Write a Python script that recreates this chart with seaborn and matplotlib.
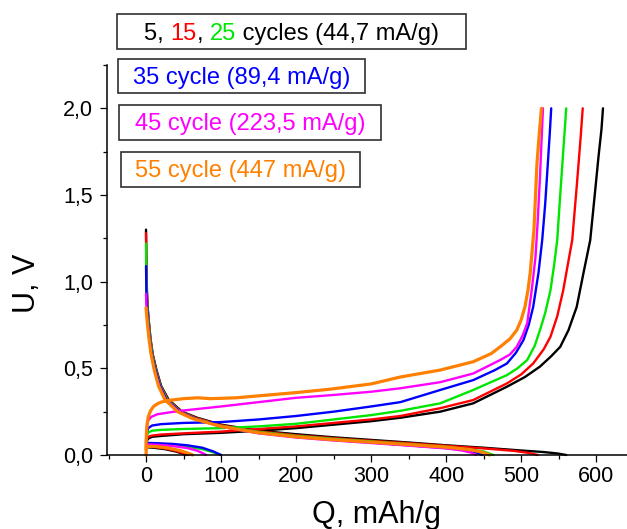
"""
Charge/discharge profiles U(Q) for cycles 5..55 at different current densities.
Values read off the reference figure by eye.
"""

import matplotlib
matplotlib.use("Agg")
import matplotlib.pyplot as plt
from matplotlib.patches import Rectangle
from matplotlib.ticker import MultipleLocator, FuncFormatter
import seaborn as sns

# ---- data: charge branches (Q in mAh/g, U in V) ----
chg_5_q = [0, 1, 3, 8, 20, 50, 100, 150, 200, 250, 300, 339, 392, 436, 481, 505, 525, 540, 552, 563, 574, 583, 592, 598, 603, 607, 609]
chg_5_v = [0.04, 0.08, 0.095, 0.105, 0.11, 0.12, 0.128, 0.14, 0.155, 0.175, 0.195, 0.215, 0.25, 0.298, 0.394, 0.45, 0.51, 0.57, 0.624, 0.72, 0.855, 1.05, 1.24, 1.5, 1.72, 1.88, 2.0]
chg_15_q = [0, 1, 3, 8, 20, 50, 100, 150, 200, 250, 300, 339, 392, 436, 481, 500, 516, 530, 539, 548, 556, 563, 568, 574, 579, 582]
chg_15_v = [0.05, 0.09, 0.105, 0.112, 0.118, 0.125, 0.135, 0.15, 0.165, 0.185, 0.205, 0.225, 0.27, 0.317, 0.413, 0.465, 0.528, 0.61, 0.682, 0.8, 0.95, 1.12, 1.24, 1.55, 1.82, 2.0]
chg_25_q = [0, 1, 3, 8, 20, 50, 100, 150, 200, 250, 300, 339, 392, 436, 481, 495, 508, 518, 525, 532, 539, 544, 548, 552, 556, 560]
chg_25_v = [0.06, 0.11, 0.13, 0.14, 0.145, 0.15, 0.155, 0.165, 0.18, 0.205, 0.23, 0.255, 0.298, 0.375, 0.461, 0.5, 0.548, 0.63, 0.72, 0.82, 0.95, 1.1, 1.24, 1.5, 1.75, 2.0]
chg_35_q = [0, 1, 3, 8, 20, 50, 100, 150, 200, 250, 300, 339, 392, 436, 465, 481, 493, 503, 510, 516, 523, 528, 532, 535, 538, 540]
chg_35_v = [0.07, 0.13, 0.155, 0.17, 0.178, 0.185, 0.19, 0.205, 0.225, 0.25, 0.28, 0.305, 0.375, 0.432, 0.49, 0.528, 0.59, 0.663, 0.75, 0.855, 1.05, 1.24, 1.45, 1.65, 1.85, 2.0]
chg_45_q = [0, 1, 3, 7, 15, 30, 46, 100, 150, 200, 246, 300, 339, 392, 436, 472, 485, 494, 502, 508, 514, 519, 522, 525, 527, 529]
chg_45_v = [0.08, 0.16, 0.2, 0.22, 0.235, 0.245, 0.255, 0.28, 0.305, 0.33, 0.345, 0.365, 0.385, 0.42, 0.47, 0.548, 0.58, 0.624, 0.69, 0.76, 0.95, 1.14, 1.35, 1.6, 1.8, 2.0]
chg_55_q = [0, 0.5, 1.5, 3, 6, 10, 15, 20, 30, 50, 69, 86, 120, 160, 200, 246, 300, 339, 392, 436, 460, 472, 485, 494, 500, 505, 509, 512, 517, 521, 524, 527]
chg_55_v = [0.03, 0.12, 0.18, 0.22, 0.255, 0.28, 0.295, 0.305, 0.315, 0.325, 0.33, 0.325, 0.33, 0.345, 0.36, 0.38, 0.41, 0.45, 0.49, 0.538, 0.585, 0.624, 0.67, 0.72, 0.78, 0.855, 0.95, 1.05, 1.3, 1.68, 1.85, 2.0]

# ---- data: discharge branches ----
dis_5_q = [0, 0.5, 1.2, 2.2, 4, 6, 9, 14, 20, 30, 48, 68, 100, 150, 200, 250, 300, 350, 400, 450, 500, 530, 548, 560]
dis_5_v = [1.30, 1.10, 0.95, 0.85, 0.76, 0.67, 0.58, 0.49, 0.40, 0.32, 0.25, 0.215, 0.175, 0.14, 0.12, 0.102, 0.087, 0.072, 0.056, 0.042, 0.026, 0.017, 0.009, 0.0]
dis_15_q = [0, 0.4, 1.1, 2, 3.8, 5.8, 8.7, 13.5, 19.5, 29, 47, 67, 100, 150, 200, 250, 300, 350, 400, 450, 490, 510, 522]
dis_15_v = [1.28, 1.08, 0.94, 0.85, 0.76, 0.67, 0.58, 0.49, 0.40, 0.32, 0.25, 0.213, 0.172, 0.137, 0.114, 0.097, 0.082, 0.068, 0.053, 0.038, 0.024, 0.012, 0.0]
dis_25_q = [0, 0.3, 0.9, 1.8, 3.5, 5.5, 8.3, 13, 19, 28, 46, 66, 100, 150, 200, 250, 300, 350, 400, 430, 450, 463]
dis_25_v = [1.22, 1.05, 0.93, 0.85, 0.76, 0.67, 0.58, 0.49, 0.40, 0.32, 0.25, 0.21, 0.168, 0.133, 0.11, 0.093, 0.078, 0.063, 0.047, 0.033, 0.02, 0.0]
dis_35_q = [0, 0.6, 1.5, 3, 5, 7.8, 12.5, 18.5, 27, 45, 65, 100, 150, 200, 250, 300, 350, 400, 425, 440, 448]
dis_35_v = [1.09, 0.93, 0.85, 0.76, 0.67, 0.58, 0.49, 0.40, 0.32, 0.25, 0.21, 0.165, 0.128, 0.104, 0.087, 0.072, 0.056, 0.04, 0.028, 0.014, 0.0]
dis_45_q = [0, 0.6, 2.2, 4.3, 7, 11.5, 17.5, 26, 44, 64, 100, 150, 200, 250, 300, 350, 400, 420, 433, 440]
dis_45_v = [0.93, 0.85, 0.76, 0.67, 0.58, 0.49, 0.40, 0.32, 0.25, 0.21, 0.163, 0.125, 0.101, 0.084, 0.069, 0.054, 0.038, 0.027, 0.014, 0.0]
dis_55_q = [0, 1.8, 4, 6.8, 11, 16.5, 25, 42, 62, 100, 150, 200, 250, 300, 350, 400, 430, 448, 458]
dis_55_v = [0.85, 0.76, 0.67, 0.58, 0.49, 0.40, 0.32, 0.25, 0.21, 0.165, 0.128, 0.105, 0.088, 0.074, 0.06, 0.045, 0.032, 0.016, 0.0]

# ---- data: short low-voltage segments near Q = 0 ----
low_5_q = [0, 10, 25, 40, 48, 53]
low_5_v = [0.045, 0.042, 0.034, 0.02, 0.009, 0.0]
low_15_q = [0, 10, 25, 40, 50, 56]
low_15_v = [0.05, 0.047, 0.038, 0.024, 0.01, 0.0]
low_25_q = [0, 15, 35, 55, 75, 90, 100]
low_25_v = [0.062, 0.06, 0.056, 0.048, 0.034, 0.015, 0.0]
low_35_q = [0, 15, 35, 55, 75, 90, 100]
low_35_v = [0.07, 0.068, 0.064, 0.056, 0.042, 0.02, 0.0]
low_45_q = [0, 15, 35, 55, 68, 76, 80]
low_45_v = [0.062, 0.059, 0.052, 0.04, 0.025, 0.01, 0.0]
low_55_q = [0, 0.5, 3, 15, 30, 45, 55, 62]
low_55_v = [0.0, 0.04, 0.05, 0.048, 0.04, 0.026, 0.012, 0.0]

cycles = [5, 15, 25, 35, 45, 55]
cycle_colors = ["#000000", "#ff0000", "#00e600", "#0000ff", "#ff00ff", "#ff8000"]

box_labels = ["35 cycle (89,4 mA/g)", "45 cycle (223,5 mA/g)", "55 cycle (447 mA/g)"]
box_label_colors = ["#0000ff", "#ff00ff", "#ff8000"]
first_label_parts = ["5, ", "15", ", ", "25", " cycles (44,7 mA/g)"]
first_label_colors = ["#000000", "#ff0000", "#000000", "#00e600", "#000000"]

x_ticks = [0, 100, 200, 300, 400, 500, 600]
y_ticks = [0.0, 0.5, 1.0, 1.5, 2.0]

segments = {
    5: [(chg_5_q, chg_5_v), (dis_5_q, dis_5_v), (low_5_q, low_5_v)],
    15: [(chg_15_q, chg_15_v), (dis_15_q, dis_15_v), (low_15_q, low_15_v)],
    25: [(chg_25_q, chg_25_v), (dis_25_q, dis_25_v), (low_25_q, low_25_v)],
    35: [(chg_35_q, chg_35_v), (dis_35_q, dis_35_v), (low_35_q, low_35_v)],
    45: [(chg_45_q, chg_45_v), (dis_45_q, dis_45_v), (low_45_q, low_45_v)],
    55: [(chg_55_q, chg_55_v), (dis_55_q, dis_55_v), (low_55_q, low_55_v)],
}

sns.set_theme(style="ticks")
plt.rcParams["font.family"] = ["Liberation Sans", "DejaVu Sans"]

W, H = 627, 529
fig = plt.figure(figsize=(W / 100, H / 100), dpi=100)
ax = fig.add_axes([107 / W, 1 - 455 / H, (W - 107) / W, (455 - 65) / H])

for cyc, col in zip(cycles, cycle_colors):
    lw = 2.3 if cyc == 55 else 1.7
    for q, v in segments[cyc]:
        sns.lineplot(x=q, y=v, sort=False, estimator=None, color=col, lw=lw, ax=ax)

for ln in ax.lines:
    ln.set_clip_on(False)

ax.set_xlim(-52, 641)
ax.set_ylim(0, 2.25)
sns.despine(ax=ax)
for side in ["left", "bottom"]:
    ax.spines[side].set_linewidth(1.1)
    ax.spines[side].set_color("black")

ax.set_xticks(x_ticks)
ax.set_yticks(y_ticks)
ax.xaxis.set_minor_locator(MultipleLocator(50))
ax.yaxis.set_minor_locator(MultipleLocator(0.25))
ax.yaxis.set_major_formatter(FuncFormatter(lambda v, p: f"{v:.1f}".replace(".", ",")))
ax.xaxis.set_major_formatter(FuncFormatter(lambda v, p: f"{v:.0f}"))
ax.tick_params(which="major", length=5, width=0.9, labelsize=15.5, colors="black")
ax.tick_params(which="minor", length=3, width=0.9, colors="black")
ax.tick_params(axis="x", which="major", pad=3)
ax.tick_params(axis="y", which="major", pad=5)

ax.set_xlabel("Q, mAh/g", fontsize=22, color="black")
ax.set_ylabel("U, V", fontsize=22, color="black")
ax.xaxis.set_label_coords(0.519, -0.115)
ax.yaxis.set_label_coords(-0.125, 0.441)

# ---- framed annotations (pixel layout) ----
boxes = [(117, 14, 466, 49), (118, 59, 365, 93), (119, 105, 381, 140), (121, 152, 360, 187)]
for x0, y0, x1, y1 in boxes:
    fig.add_artist(Rectangle((x0 / W, 1 - y1 / H), (x1 - x0) / W, (y1 - y0) / H,
                             transform=fig.transFigure, fill=False,
                             ec="#303030", lw=1.2))

for (x0, y0, x1, y1), txt, col in zip(boxes[1:], box_labels, box_label_colors):
    fig.text((x0 + x1) / 2 / W, 1 - (y0 + 25) / H, txt, ha="center",
             va="baseline", fontsize=17, color=col)

# multicoloured first label: measure advances with bar guards
renderer = fig.canvas.get_renderer()


def advance(s):
    t1 = fig.text(0, 0, "|" + s + "|", fontsize=17)
    t2 = fig.text(0, 0, "||", fontsize=17)
    w = t1.get_window_extent(renderer).width - t2.get_window_extent(renderer).width
    t1.remove()
    t2.remove()
    return w


widths = [advance(s) for s in first_label_parts]
x0, y0, x1, y1 = boxes[0]
xpos = (x0 + x1) / 2 - sum(widths) / 2
for s, col, w in zip(first_label_parts, first_label_colors, widths):
    fig.text(xpos / W, 1 - (y0 + 26) / H, s, ha="left", va="baseline",
             fontsize=17, color=col)
    xpos += w

fig.savefig("out.png", dpi=100)
